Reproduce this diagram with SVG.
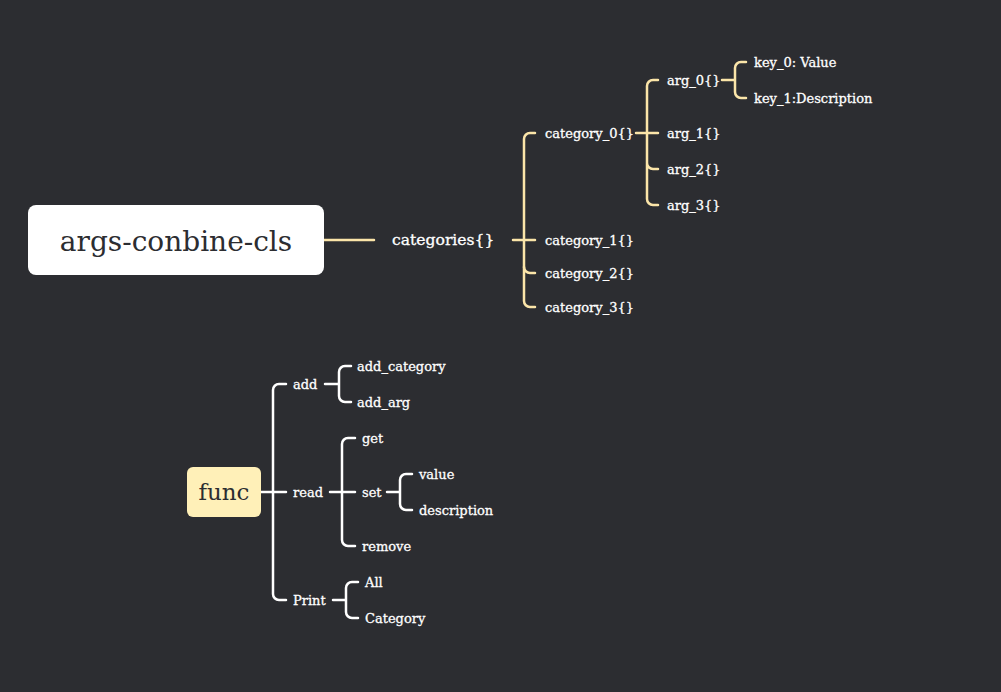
<svg xmlns="http://www.w3.org/2000/svg" width="1001" height="692" viewBox="0 0 1001 692">
<style>
.t{font-family:"DejaVu Serif","Liberation Serif",serif;font-size:13px;fill:#ffffff;stroke:#ffffff;stroke-width:0.3;dominant-baseline:central}
.y{fill:none;stroke:#fbe5a9;stroke-width:2.5;stroke-linecap:round;stroke-linejoin:round}
.w{fill:none;stroke:#ffffff;stroke-width:2.5;stroke-linecap:round;stroke-linejoin:round}
</style>
<rect width="1001" height="692" fill="#2c2d31"/>
<g id="connectors">
<path class="y" d="M324 240H374"/>
<path class="y" d="M513 240H535M535 133h-5a6 6 0 0 0-6 6V301a6 6 0 0 0 6 6h5"/>
<path class="y" d="M524 267a6 6 0 0 0 6 6h5"/>
<path class="y" d="M636 133H658M658 80h-5a6 6 0 0 0-6 6V199a6 6 0 0 0 6 6h5M647 163a6 6 0 0 0 6 6h5"/>
<path class="y" d="M722 80H735M746 62h-5a6 6 0 0 0-6 6V92a6 6 0 0 0 6 6h5"/>
<path class="w" d="M261 492H286M286 384h-7a6 6 0 0 0-6 6V594a6 6 0 0 0 6 6h7"/>
<path class="w" d="M325 384H339M351 366h-6a6 6 0 0 0-6 6V396a6 6 0 0 0 6 6h6"/>
<path class="w" d="M330 492H355M355 438h-7a6 6 0 0 0-6 6V540a6 6 0 0 0 6 6h7"/>
<path class="w" d="M387 492H400M412 474h-6a6 6 0 0 0-6 6V504a6 6 0 0 0 6 6h6"/>
<path class="w" d="M333 600H346M358 582h-6a6 6 0 0 0-6 6V612a6 6 0 0 0 6 6h6"/>
</g>
<g id="root">
<rect x="28" y="205" width="296" height="70" rx="8" fill="#ffffff"/>
<text x="176" y="241" text-anchor="middle" style="font-family:'DejaVu Serif','Liberation Serif',serif;font-size:28px;fill:#2c2d31;dominant-baseline:central">args-conbine-cls</text>
</g>
<g id="categories"><text class="t" x="392" y="240" style="font-size:15.6px">categories{}</text></g>
<g id="category_0"><text class="t" x="545" y="133">category_0{}</text></g>
<g id="category_1"><text class="t" x="545" y="240">category_1{}</text></g>
<g id="category_2"><text class="t" x="545" y="273">category_2{}</text></g>
<g id="category_3"><text class="t" x="545" y="307">category_3{}</text></g>
<g id="arg_0"><text class="t" x="667" y="80">arg_0{}</text></g>
<g id="arg_1"><text class="t" x="667" y="133">arg_1{}</text></g>
<g id="arg_2"><text class="t" x="667" y="169">arg_2{}</text></g>
<g id="arg_3"><text class="t" x="667" y="205">arg_3{}</text></g>
<g id="key_0"><text class="t" x="754" y="62">key_0: Value</text></g>
<g id="key_1"><text class="t" x="754" y="98">key_1:Description</text></g>
<g id="func">
<rect x="187" y="467" width="74" height="50" rx="6" fill="#fff0b8"/>
<text x="224" y="492" text-anchor="middle" style="font-family:'DejaVu Serif','Liberation Serif',serif;font-size:23px;fill:#2c2d31;dominant-baseline:central">func</text>
</g>
<g id="add"><text class="t" x="293" y="384">add</text></g>
<g id="add_category"><text class="t" x="357" y="366">add_category</text></g>
<g id="add_arg"><text class="t" x="357" y="402">add_arg</text></g>
<g id="read"><text class="t" x="293" y="492">read</text></g>
<g id="get"><text class="t" x="362" y="438">get</text></g>
<g id="set"><text class="t" x="362" y="492">set</text></g>
<g id="value"><text class="t" x="419" y="474">value</text></g>
<g id="description"><text class="t" x="419" y="510">description</text></g>
<g id="remove"><text class="t" x="362" y="546">remove</text></g>
<g id="Print"><text class="t" x="293" y="600">Print</text></g>
<g id="All"><text class="t" x="365" y="582">All</text></g>
<g id="Category"><text class="t" x="365" y="618">Category</text></g>
</svg>
